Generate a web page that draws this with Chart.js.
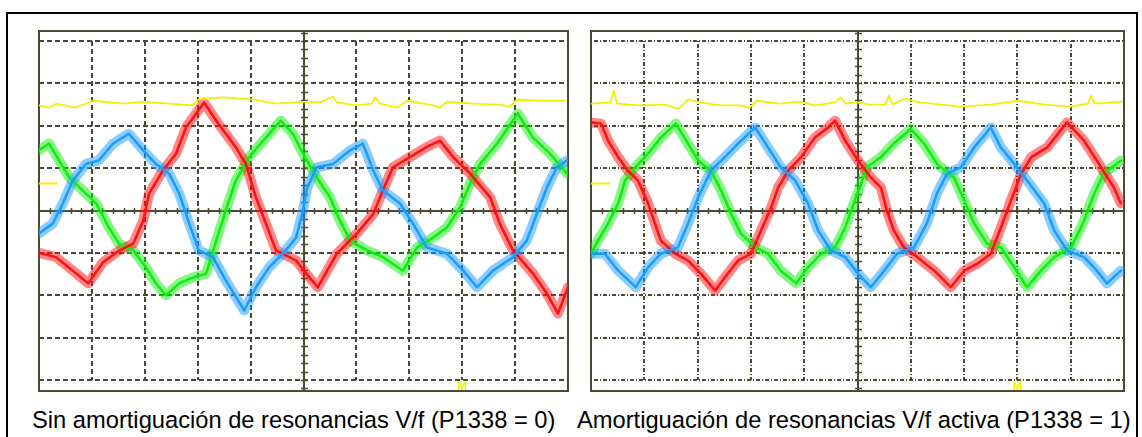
<!DOCTYPE html>
<html>
<head>
<meta charset="utf-8">
<script src="https://cdn.jsdelivr.net/npm/chart.js@4.4.1/dist/chart.umd.min.js"></script>
<style>
  html, body { margin: 0; padding: 0; background: #fff; }
  body { width: 1142px; height: 437px; position: relative; overflow: hidden; }
  .outer { position: absolute; left: 6px; top: 12px; width: 1128px; height: 440px; border: 2px solid #000; }
  canvas { position: absolute; }
  .caption { position: absolute; top: 409px; font-family: "Liberation Sans", Arial, sans-serif;
             font-size: 23.7px; line-height: 23.7px; color: #000; white-space: nowrap; }
</style>
</head>
<body>
<div class="outer"></div>
<canvas id="leftScope" style="left:37px; top:27px;" width="533" height="367"></canvas>
<canvas id="rightScope" style="left:589px; top:27px;" width="537" height="367"></canvas>
<div class="caption" style="left:32px;">Sin amortiguación de resonancias V/f (P1338 = 0)</div>
<div class="caption" style="left:577px;">Amortiguación de resonancias V/f activa (P1338 = 1)</div>

<script>
// Screen values in divisions: [time div, amplitude div]
// Left scope (no damping)
const leftRed = [[0,-1.0],[0.32,-1.1],[0.57,-1.35],[0.93,-1.72],[1.21,-1.22],[1.51,-0.95],[1.78,-0.78],[1.97,-0.24],[2.08,0.4],[2.34,0.94],[2.59,1.34],[2.78,1.96],[3.12,2.55],[3.35,2.12],[3.72,1.49],[3.91,1.1],[4.1,0.31],[4.29,-0.31],[4.48,-0.94],[4.86,-1.18],[5.05,-1.49],[5.27,-1.81],[5.63,-1.02],[6.01,-0.54],[6.32,-0.08],[6.5,0.47],[6.69,1.02],[7.01,1.26],[7.33,1.5],[7.58,1.65],[7.83,1.26],[8.15,0.87],[8.53,0.31],[8.71,-0.31],[8.96,-0.94],[9.34,-1.49],[9.6,-1.96],[9.81,-2.43],[10,-1.81]];
const leftGreen = [[0,1.42],[0.19,1.58],[0.38,1.18],[0.57,0.78],[0.83,0.47],[1.08,0.17],[1.32,-0.4],[1.51,-0.78],[1.78,-0.94],[2.02,-1.34],[2.21,-1.72],[2.4,-2.0],[2.65,-1.72],[2.91,-1.58],[3.16,-1.49],[3.35,-0.71],[3.53,0],[3.72,0.71],[3.97,1.26],[4.29,1.72],[4.57,2.12],[4.8,1.81],[4.99,1.34],[5.25,0.78],[5.5,0.31],[5.69,-0.24],[5.88,-0.71],[6.2,-0.94],[6.5,-1.1],[6.88,-1.42],[7.15,-0.87],[7.45,-0.64],[7.71,-0.4],[7.96,0.07],[8.15,0.64],[8.34,1.1],[8.66,1.58],[9.05,2.29],[9.34,1.72],[9.66,1.34],[9.98,0.87]];
const leftBlue = [[0,-0.54],[0.26,-0.31],[0.45,0.17],[0.64,0.71],[0.89,1.1],[1.13,1.18],[1.4,1.58],[1.7,1.81],[1.97,1.42],[2.21,1.1],[2.46,0.87],[2.65,0.4],[2.84,-0.31],[3.02,-0.94],[3.29,-1.1],[3.53,-1.65],[3.88,-2.36],[4.1,-1.81],[4.35,-1.34],[4.61,-1.02],[4.86,-0.64],[4.99,0],[5.07,0.54],[5.25,1.02],[5.56,1.1],[5.88,1.42],[6.12,1.58],[6.32,0.94],[6.5,0.47],[6.82,0.17],[7.07,-0.31],[7.33,-0.87],[7.71,-1.02],[8.02,-1.42],[8.28,-1.81],[8.58,-1.42],[8.96,-1.1],[9.22,-0.71],[9.41,-0.08],[9.6,0.54],[9.79,1.02],[9.98,1.18]];
const leftYellow = [[0,2.48],[0.19,2.43],[0.32,2.52],[0.7,2.43],[1.02,2.59],[1.59,2.52],[1.97,2.57],[2.46,2.52],[2.91,2.48],[3.02,2.62],[3.48,2.67],[4.05,2.62],[4.48,2.52],[5.05,2.57],[5.31,2.55],[5.56,2.69],[5.63,2.55],[6.01,2.48],[6.29,2.52],[6.35,2.67],[6.45,2.52],[6.77,2.43],[6.96,2.59],[7.45,2.48],[7.58,2.43],[7.71,2.57],[8.2,2.52],[8.71,2.5],[8.9,2.45],[9.04,2.62],[9.47,2.59],[9.94,2.59]];

// Right scope (damping active)
const rightRed = [[0,2.08],[0.19,2.05],[0.32,1.65],[0.51,1.26],[0.69,0.94],[0.88,0.71],[1.07,0.17],[1.2,-0.31],[1.31,-0.71],[1.58,-1.02],[1.82,-1.18],[2.06,-1.49],[2.33,-1.89],[2.51,-1.58],[2.76,-1.18],[3.0,-1.02],[3.19,-0.47],[3.38,0.07],[3.51,0.54],[3.7,0.94],[3.94,1.26],[4.2,1.72],[4.45,1.96],[4.58,2.12],[4.77,1.65],[5.01,1.18],[5.25,0.78],[5.44,0.54],[5.55,0],[5.68,-0.47],[5.87,-0.87],[6.12,-1.1],[6.44,-1.42],[6.75,-1.81],[7.0,-1.42],[7.24,-1.26],[7.5,-1.02],[7.69,-0.4],[7.88,0.24],[8.07,0.87],[8.26,1.26],[8.56,1.49],[8.93,2.08],[9.25,1.65],[9.57,1.02],[9.81,0.54],[9.94,0.17]];
const rightGreen = [[0,-1.02],[0.13,-0.71],[0.32,-0.31],[0.51,0.17],[0.64,0.71],[0.83,1.02],[1.07,1.34],[1.31,1.72],[1.59,2.05],[1.82,1.58],[2.01,1.18],[2.25,0.94],[2.44,0.47],[2.63,-0.08],[2.81,-0.54],[3.08,-0.87],[3.32,-1.02],[3.56,-1.42],[3.85,-1.72],[4.07,-1.34],[4.32,-1.02],[4.58,-0.87],[4.77,-0.4],[4.95,0.24],[5.18,1.02],[5.44,1.26],[5.68,1.58],[6.0,1.93],[6.25,1.58],[6.49,1.1],[6.81,0.78],[7.0,0.24],[7.19,-0.31],[7.43,-0.78],[7.69,-0.87],[7.94,-1.34],[8.18,-1.81],[8.44,-1.42],[8.69,-1.1],[9.01,-0.87],[9.25,-0.24],[9.44,0.4],[9.62,0.87],[9.94,1.18]];
const rightBlue = [[0,-1.02],[0.26,-1.02],[0.51,-1.42],[0.84,-1.81],[1.07,-1.34],[1.31,-1.02],[1.63,-0.87],[1.82,-0.31],[2.01,0.31],[2.25,0.94],[2.51,1.26],[2.76,1.58],[3.08,1.96],[3.32,1.49],[3.56,1.02],[3.83,0.71],[4.07,0.17],[4.26,-0.47],[4.5,-0.94],[4.77,-1.1],[5.01,-1.49],[5.25,-1.81],[5.5,-1.42],[5.74,-1.02],[6.06,-0.87],[6.3,-0.31],[6.49,0.4],[6.68,0.87],[6.94,1.02],[7.19,1.49],[7.5,1.96],[7.69,1.49],[7.94,1.1],[8.18,0.71],[8.5,0.17],[8.69,-0.47],[8.93,-0.94],[9.25,-1.1],[9.49,-1.42],[9.68,-1.72],[9.94,-1.42]];
const rightYellow = [[0,2.52],[0.36,2.55],[0.43,2.83],[0.49,2.52],[0.92,2.48],[1.39,2.5],[1.63,2.4],[1.82,2.62],[2.05,2.55],[2.42,2.48],[2.8,2.48],[2.98,2.43],[3.11,2.59],[3.55,2.52],[3.92,2.57],[4.2,2.48],[4.58,2.55],[4.69,2.67],[4.77,2.52],[5.0,2.55],[5.23,2.5],[5.52,2.5],[5.59,2.71],[5.66,2.5],[5.87,2.64],[6.17,2.55],[6.92,2.45],[7.49,2.5],[8.01,2.59],[8.52,2.5],[8.99,2.45],[9.32,2.52],[9.38,2.71],[9.46,2.52],[9.74,2.55],[9.96,2.57]];

// channel ground marker (level, start, end) and trigger marker position
const groundMarker = [[0,0.64],[0.34,0.64]];
const triggerMarkerX = 8.0;

const FRAME_COLOR = '#4a4a34';
const RED = '#ff1010';
const GREEN = '#10ee10';
const BLUE = '#1a9cff';
const YELLOW = '#f2f200';

/**
 * Draws the scope frame, the solid centre axes with small ticks and the trigger marker
 */
const scopeFrame = {
    id: 'scopeFrame',
    beforeDatasetsDraw(chart) {
        const { ctx, chartArea: a, scales: { x, y } } = chart;
        const top = a.top - 10, bottom = a.bottom + 11;
        const cx = Math.round(x.getPixelForValue(5));
        const cy = Math.round(y.getPixelForValue(0));
        ctx.save();
        ctx.strokeStyle = FRAME_COLOR;
        ctx.lineWidth = 2;
        ctx.strokeRect(a.left, top, a.right - a.left, bottom - top);
        ctx.beginPath();
        ctx.moveTo(a.left, cy); ctx.lineTo(a.right, cy);
        ctx.moveTo(cx, top); ctx.lineTo(cx, bottom);
        ctx.stroke();
        // small ticks every 1/5 division
        ctx.lineWidth = 1.5;
        ctx.beginPath();
        for (let i = 1; i < 50; i++) {
            const px = Math.round(x.getPixelForValue(i / 5)) + 0.5;
            ctx.moveTo(px, cy - 3); ctx.lineTo(px, cy + 3);
        }
        for (let i = -21; i <= 21; i++) {
            const py = Math.round(y.getPixelForValue(i / 5)) + 0.5;
            ctx.moveTo(cx - 3, py); ctx.lineTo(cx + 4, py);
        }
        ctx.stroke();
        ctx.restore();
    },
    afterDraw(chart) {
        const { ctx, chartArea: a, scales: { x } } = chart;
        ctx.save();
        ctx.fillStyle = YELLOW;
        ctx.font = 'bold 11px "Liberation Sans", Arial, sans-serif';
        ctx.textAlign = 'center';
        ctx.textBaseline = 'top';
        ctx.fillText('M', x.getPixelForValue(triggerMarkerX), a.bottom + 1);
        ctx.restore();
    }
};

function toXY(points) {
    return points.map(p => ({ x: p[0], y: p[1] }));
}

function withAlpha(hex, alpha) {
    const n = parseInt(hex.slice(1), 16);
    return `rgba(${(n >> 16) & 255}, ${(n >> 8) & 255}, ${n & 255}, ${alpha})`;
}

// each current trace = solid core + wider translucent band for the switching noise
function traceSets(points, color, order) {
    return [
        { data: toXY(points), borderColor: color, borderWidth: 2.5, order: order },
        { data: toXY(points), borderColor: withAlpha(color, 0.5), borderWidth: 10, order: order + 10 }
    ];
}

function buildScope(canvasId, red, green, blue, yellow, gridDash) {
    const datasets = [
        { data: toXY(yellow), borderColor: YELLOW, borderWidth: 1.8, order: 0 },
        { data: toXY(groundMarker), borderColor: YELLOW, borderWidth: 2, order: 0 },
        ...traceSets(blue, BLUE, 1),
        ...traceSets(red, RED, 2),
        ...traceSets(green, GREEN, 3)
    ];
    return new Chart(document.getElementById(canvasId), {
        type: 'line',
        data: { datasets: datasets },
        options: {
            responsive: false,
            animation: false,
            events: [],
            layout: { padding: { left: 2, right: 2, top: 14, bottom: 14 } },
            elements: {
                point: { radius: 0 },
                line: { tension: 0, fill: false, borderJoinStyle: 'round', borderCapStyle: 'round' }
            },
            plugins: { legend: { display: false }, tooltip: { enabled: false } },
            scales: {
                x: {
                    type: 'linear', min: 0, max: 10,
                    ticks: { display: false, stepSize: 1 },
                    grid: { color: FRAME_COLOR, lineWidth: 2, drawTicks: false },
                    border: { display: false, dash: gridDash }
                },
                y: {
                    type: 'linear', min: -4, max: 4,
                    ticks: { display: false, stepSize: 1 },
                    grid: { color: FRAME_COLOR, lineWidth: 2, drawTicks: false },
                    border: { display: false, dash: gridDash }
                }
            }
        },
        plugins: [scopeFrame]
    });
}

buildScope('leftScope', leftRed, leftGreen, leftBlue, leftYellow, [5, 3]);
buildScope('rightScope', rightRed, rightGreen, rightBlue, rightYellow, [1, 2, 4, 2]);
</script>
</body>
</html>
